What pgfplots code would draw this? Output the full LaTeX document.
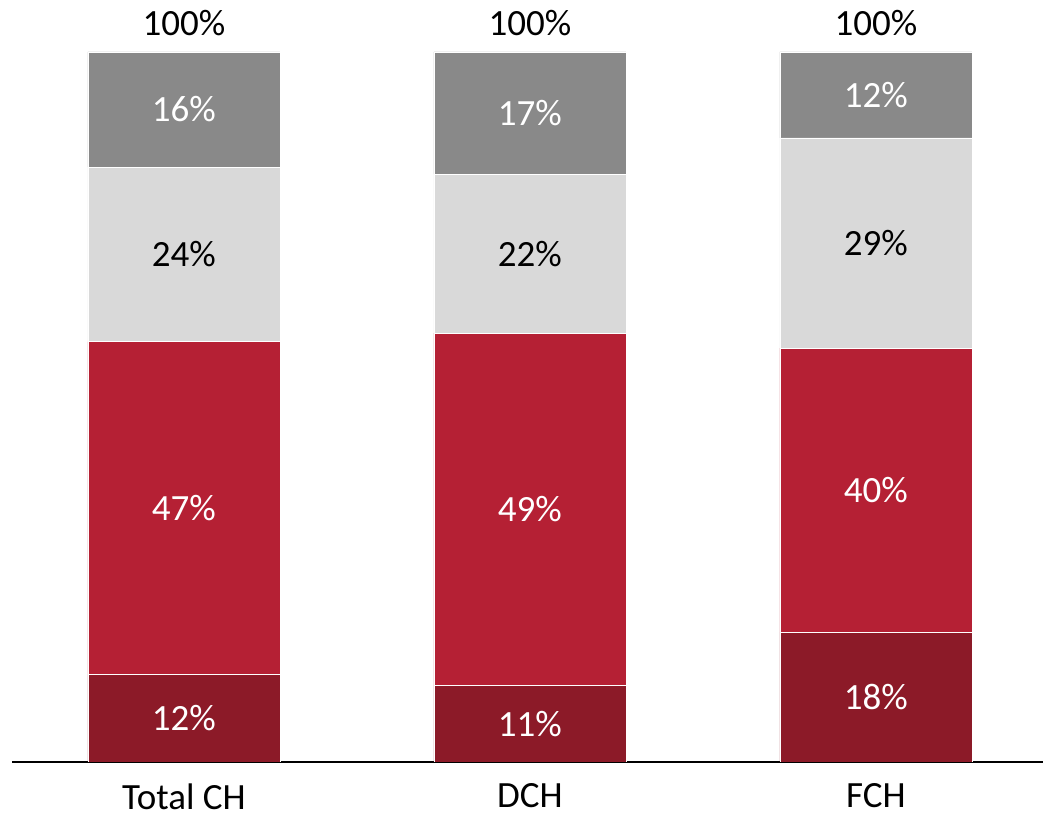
\documentclass[border=0pt]{standalone}
\usepackage{fontspec}
\setmainfont{Carlito}
\usepackage{pgfplots}
\pgfplotsset{compat=1.18}

\definecolor{segA}{HTML}{8C1A28}
\definecolor{segB}{HTML}{B52034}
\definecolor{segC}{HTML}{D9D9D9}
\definecolor{segD}{HTML}{898989}

\pgfplotsset{
  frame/.style={
    scale only axis, width=515.5pt, height=355pt,
    at={(6pt,28pt)}, anchor=south west,
    xmin=-0.497, xmax=2.483, ymin=0, ymax=100,
  },
  lbl/.style={
    draw=none, mark=none, nodes near coords, point meta=explicit symbolic,
    every node near coord/.append style={anchor=center, font=\fontsize{18.5}{20}\selectfont, text=#1},
  },
}

\begin{document}
\begin{tikzpicture}
\path[use as bounding box] (0,0) rectangle (521.5pt,409pt);

\begin{axis}[frame,
  ybar stacked, bar width=96pt,
  axis x line*=bottom, axis y line=none,
  x axis line style={line width=1pt, black},
  xtick={0,1,2}, xticklabels={Total CH,DCH,FCH},
  major tick length=0pt,
  xticklabel style={font=\fontsize{18.5}{20}\selectfont, inner sep=0pt, yshift=-10.5pt},
  every axis plot/.append style={draw=white, line width=0.3pt},
]
\addplot[fill=segA] coordinates {(0,12.3) (1,10.8) (2,18.2)};
\addplot[fill=segB] coordinates {(0,46.9) (1,49.6) (2,40.1)};
\addplot[fill=segC] coordinates {(0,24.6) (1,22.4) (2,29.6)};
\addplot[fill=segD] coordinates {(0,16.2) (1,17.2) (2,12.1)};
\end{axis}

\begin{axis}[frame, hide axis, clip=false]
\addplot[lbl=white] coordinates {
  (0,6.15) [12\%] (1,5.4) [11\%] (2,9.1) [18\%]
  (0,35.75) [47\%] (1,35.6) [49\%] (2,38.25) [40\%]
  (0,91.9) [16\%] (1,91.4) [17\%] (2,93.95) [12\%]
};
\addplot[lbl=black] coordinates {
  (0,71.5) [24\%] (1,71.6) [22\%] (2,73.1) [29\%]
};
\addplot[lbl=black, every node near coord/.append style={anchor=base, yshift=8pt}] coordinates {
  (0,100) [100\%] (1,100) [100\%] (2,100) [100\%]
};
\end{axis}
\end{tikzpicture}
\end{document}
